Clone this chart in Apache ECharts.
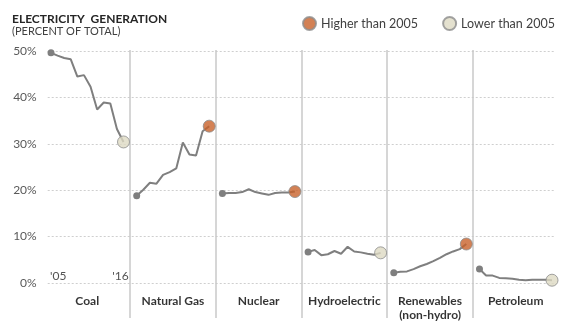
<!DOCTYPE html>
<html>
<head>
<meta charset="utf-8">
<script src="https://cdn.jsdelivr.net/npm/echarts@6/dist/echarts.min.js"></script>
<style>html,body{margin:0;padding:0;background:#fff}#c{width:576px;height:329px}</style>
</head>
<body>
<div id="c"></div>
<script>
const categories = ['Coal', 'Natural Gas', 'Nuclear', 'Hydroelectric', 'Renewables\n(non-hydro)', 'Petroleum'];
const years = ['2005','2006','2007','2008','2009','2010','2011','2012','2013','2014','2015','2016'];
const yearTickLabels = ["'05", "'16"];
const coal = [49.6, 49.0, 48.5, 48.2, 44.5, 44.8, 42.3, 37.4, 38.9, 38.7, 33.2, 30.4];
const naturalGas = [18.8, 20.1, 21.6, 21.4, 23.3, 23.9, 24.7, 30.3, 27.7, 27.5, 32.7, 33.8];
const nuclear = [19.3, 19.4, 19.4, 19.6, 20.2, 19.6, 19.3, 19.0, 19.4, 19.5, 19.5, 19.7];
const hydro = [6.7, 7.1, 6.0, 6.2, 6.9, 6.3, 7.8, 6.8, 6.6, 6.3, 6.1, 6.5];
const renewables = [2.2, 2.4, 2.5, 3.0, 3.6, 4.1, 4.7, 5.4, 6.2, 6.8, 7.3, 8.4];
const petroleum = [3.0, 1.6, 1.6, 1.1, 1.0, 0.9, 0.7, 0.6, 0.7, 0.7, 0.7, 0.6];
const panels = [coal, naturalGas, nuclear, hydro, renewables, petroleum];

const FONT = 'Lato';
const SLOT = 13; // slots per panel (12 years + 1 gap)
const xOf = (p, i) => p * SLOT + i;

const lineSeries = panels.map((vals, p) => ({
  type: 'line',
  name: categories[p],
  xAxisIndex: 0, yAxisIndex: 0,
  data: vals.map((v, i) => [xOf(p, i), v]),
  symbol: 'circle',
  symbolSize: (v, params) => params.dataIndex === 0 ? 7 : 0,
  showAllSymbol: true,
  itemStyle: { color: '#7f7f7f' },
  lineStyle: { color: '#7f7f7f', width: 2 },
  silent: true, z: 3
}));

const higher = [], lower = [];
panels.forEach((vals, p) => {
  const last = vals[vals.length - 1];
  const pt = [xOf(p, vals.length - 1), last];
  if (last > vals[0]) higher.push(pt); else lower.push(pt);
});

const option = {
  animation: false,
  title: {
    text: 'ELECTRICITY  GENERATION',
    subtext: '(PERCENT OF TOTAL)',
    left: 7, top: 8, itemGap: 1,
    textStyle: { fontFamily: FONT, fontSize: 12, fontWeight: 'bold', color: '#262626' },
    subtextStyle: { fontFamily: FONT, fontSize: 11, color: '#404040' }
  },
  legend: {
    data: ['Higher than 2005', 'Lower than 2005'],
    left: 297, top: 11,
    icon: 'circle', itemWidth: 13, itemHeight: 13, itemGap: 24,
    textStyle: { fontFamily: FONT, fontSize: 12.5, color: '#404040' },
    selectedMode: false
  },
  grid: [
    { left: 47.7, right: 20.7, top: 51, bottom: 46 },
    { left: 47.7, right: 20.7, top: 50, bottom: 11 }
  ],
  xAxis: [
    { type: 'value', gridIndex: 0, min: -0.5, max: 76.5, show: false, splitLine: { show: false } },
    { type: 'value', gridIndex: 1, min: -0.5, max: 76.5, show: false, splitLine: { show: false } }
  ],
  yAxis: [
    {
      type: 'value', gridIndex: 0, min: 0, max: 50, interval: 10,
      axisLine: { show: false }, axisTick: { show: false },
      axisLabel: { formatter: '{value}%', fontFamily: FONT, fontSize: 12, color: '#595959', margin: 11 },
      splitLine: { lineStyle: { color: '#cfcfcf', type: [2, 2], width: 1 } }
    },
    { type: 'value', gridIndex: 1, min: 0, max: 1, show: false, splitLine: { show: false } }
  ],
  series: [
    {
      type: 'line', xAxisIndex: 1, yAxisIndex: 1, data: [], silent: true,
      markLine: {
        symbol: 'none', silent: true, label: { show: false },
        lineStyle: { color: '#c8c8c8', type: 'solid', width: 1.5 },
        data: categories.slice(1).map((c, p) => ({ xAxis: xOf(p, SLOT - 1) }))
      }
    },
    ...lineSeries,
    {
      type: 'scatter', name: 'Higher than 2005', data: higher, symbolSize: 12,
      itemStyle: { color: '#c8622a', borderColor: '#8c8c8c', borderWidth: 1 }, z: 5, silent: true
    },
    {
      type: 'scatter', name: 'Lower than 2005', data: lower, symbolSize: 12,
      itemStyle: { color: '#ddd9c3', borderColor: '#8c8c8c', borderWidth: 1 }, z: 5, silent: true
    },
    {
      type: 'scatter', name: 'panelLabels', symbolSize: 0, clip: false, silent: true,
      data: categories.map((c, p) => ({ value: [xOf(p, (years.length - 1) / 2), 0], name: c })),
      label: {
        show: true, position: 'bottom', distance: 11, formatter: '{b}',
        fontFamily: FONT, fontSize: 12, fontWeight: 'bold', color: '#000', lineHeight: 14
      }
    },
    {
      type: 'scatter', name: 'yearLabels', symbolSize: 0, clip: false, silent: true,
      data: [
        { value: [xOf(0, 0), 0], name: yearTickLabels[0], label: { align: 'left', offset: [-1, 0] } },
        { value: [xOf(0, years.length - 1), 0], name: yearTickLabels[1], label: { align: 'center', offset: [-3, 0] } }
      ],
      label: {
        show: true, position: 'top', distance: 1, formatter: '{b}',
        fontFamily: FONT, fontSize: 12, color: '#262626'
      }
    }
  ]
};

const chart = echarts.init(document.getElementById('c'), null, { renderer: 'canvas' });
chart.setOption(option);
</script>
</body>
</html>
